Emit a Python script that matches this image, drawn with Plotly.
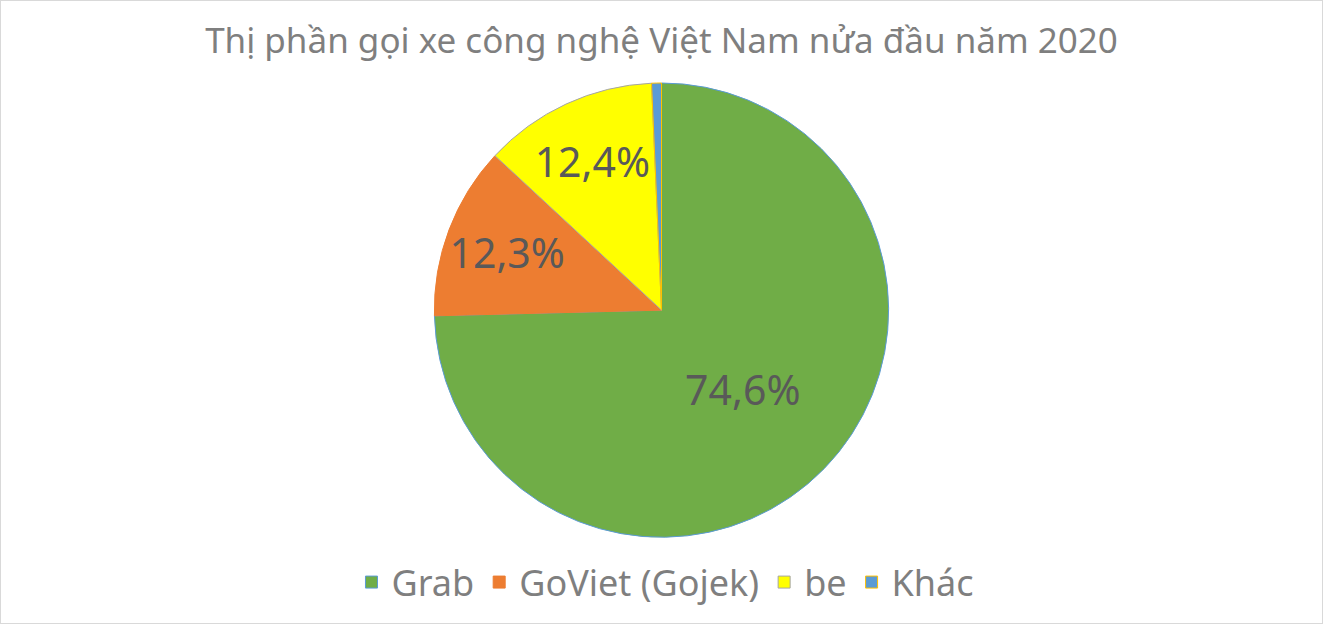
import plotly.graph_objects as go

# market share, first half of 2020
companies = ["Grab", "GoViet (Gojek)", "be", "Khác"]
shares = [74.6, 12.3, 12.4, 0.7]
slice_colors = ["#70AD47", "#ED7D31", "#FFFF00", "#5B9BD5"]
# Excel left the default outline colours on each slice
outline_colors = ["#5B9BD5", "#ED7D31", "#A5A5A5", "#FFC000"]
label_templates = ["%{value:.1f}%", "%{value:.1f}%", "%{value:.1f}%", ""]

title = "Thị phần gọi xe công nghệ Việt Nam nửa đầu năm 2020"
font_name = "Noto Sans"

fig = go.Figure(
    go.Pie(
        labels=companies,
        values=shares,
        sort=False,
        direction="clockwise",
        rotation=0,
        marker=dict(colors=slice_colors, line=dict(color=outline_colors, width=1)),
        texttemplate=label_templates,
        textposition="inside",
        insidetextorientation="horizontal",
        textfont=dict(family=font_name, size=41, color="#595959"),
        hoverinfo="label+percent",
        domain=dict(x=[0.2, 0.8], y=[0.139, 0.867]),
    )
)

fig.update_layout(
    width=1323,
    height=624,
    separators=",.",
    paper_bgcolor="white",
    margin=dict(l=0, r=0, t=0, b=0),
    title=dict(
        text=title,
        x=0.5,
        xanchor="center",
        y=0.935,
        yanchor="middle",
        font=dict(family=font_name, size=35, color="#7F7F7F"),
    ),
    legend=dict(
        orientation="h",
        x=0.503,
        xanchor="center",
        y=0.067,
        yanchor="middle",
        font=dict(family=font_name, size=36, color="#7F7F7F"),
        itemwidth=30,
    ),
    uniformtext=dict(minsize=41, mode="show"),
    shapes=[
        dict(
            type="rect",
            xref="paper",
            yref="paper",
            x0=0,
            y0=0,
            x1=1,
            y1=1,
            line=dict(color="#D9D9D9", width=2),
        )
    ],
)

# the page body has a default 8px margin, drop it so the chart fills the window
fig.write_html(
    "out.html",
    config={"displayModeBar": False},
    post_script="document.body.style.margin = '0';",
)
